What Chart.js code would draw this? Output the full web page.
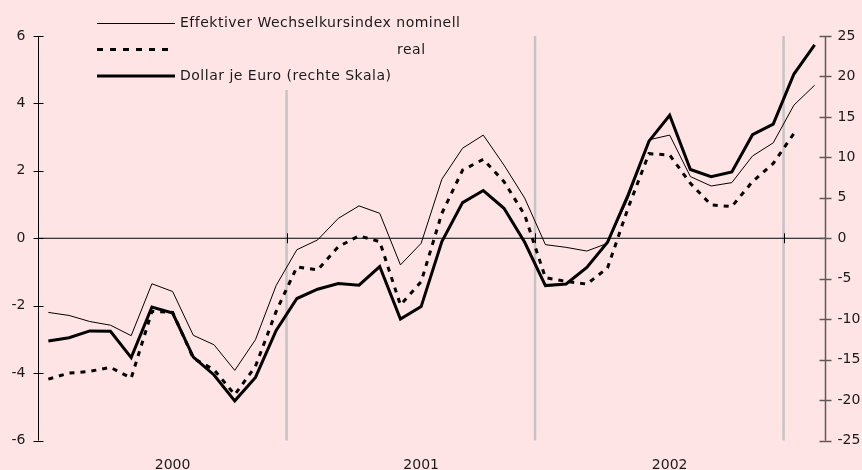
<!DOCTYPE html>
<html lang="de">
  <head>
    <meta charset="UTF-8" />
    <script src="https://cdn.jsdelivr.net/npm/chart.js@4.4.0/dist/chart.umd.min.js"></script>
    <title>Wechselkurse</title>
    <style>
      body {
        margin: 0;
        padding: 0;
        background: #ffe4e6;
      }
    </style>
  </head>
  <body>
    <canvas id="chart" width="862" height="470"></canvas>
    <script>
      // Monate Jan 2000 .. Feb 2003
      const months = [
        '2000-01','2000-02','2000-03','2000-04','2000-05','2000-06','2000-07','2000-08','2000-09','2000-10','2000-11','2000-12',
        '2001-01','2001-02','2001-03','2001-04','2001-05','2001-06','2001-07','2001-08','2001-09','2001-10','2001-11','2001-12',
        '2002-01','2002-02','2002-03','2002-04','2002-05','2002-06','2002-07','2002-08','2002-09','2002-10','2002-11','2002-12',
        '2003-01','2003-02'
      ]
      const nominal = [
        -2.20, -2.29, -2.47, -2.58, -2.89, -1.35, -1.58, -2.88, -3.16, -3.92, -3.01, -1.40,
        -0.34, -0.05, 0.59, 0.96, 0.74, -0.79, -0.15, 1.75, 2.67, 3.06, 2.17, 1.19,
        -0.19, -0.27, -0.38, -0.15, 1.20, 2.92, 3.06, 1.83, 1.55, 1.65, 2.44, 2.83,
        3.95, 4.54
      ]
      const real = [
        -4.18, -4.00, -3.95, -3.83, -4.15, -2.17, -2.20, -3.56, -3.90, -4.64, -3.80, -2.17,
        -0.85, -0.94, -0.25, 0.07, -0.10, -1.98, -1.29, 0.74, 2.02, 2.34, 1.68, 0.69,
        -1.17, -1.28, -1.36, -0.88, 0.91, 2.51, 2.47, 1.63, 0.99, 0.94, 1.68, 2.22,
        3.11, null
      ]
      const dollar = [
        -12.7, -12.3, -11.45, -11.5, -14.75, -8.5, -9.25, -14.7, -16.9, -20.1, -17.2, -11.4,
        -7.45, -6.3, -5.6, -5.8, -3.5, -10.0, -8.45, -0.4, 4.4, 5.9, 3.7, -0.5,
        -5.85, -5.65, -3.6, -0.5, 5.4, 12.0, 15.2, 8.5, 7.6, 8.2, 12.8, 14.1,
        20.3, 23.9
      ]
      const leftTicks = [-6, -4, -2, 0, 2, 4, 6]
      const rightTicks = [-25, -20, -15, -10, -5, 0, 5, 10, 15, 20, 25]
      const yearLabels = ['2000', '2001', '2002']
      const yearLabelAt = ['2000-07', '2001-07', '2002-07']
      const yearBreaks = ['2000-12', '2001-12', '2002-12']
      const legendLabels = [
        'Effektiver Wechselkursindex nominell',
        'real',
        'Dollar je Euro (rechte Skala)',
      ]

      const BG = '#ffe4e6'
      const FONT = '14px "DejaVu Sans"'

      const decor = {
        id: 'decor',
        beforeDatasetsDraw(chart) {
          const { ctx, chartArea: a, scales } = chart
          const x = scales.x
          const half = (x.getPixelForValue(1) - x.getPixelForValue(0)) / 2
          ctx.save()
          // grey year separators
          ctx.strokeStyle = '#c4c4c4'
          ctx.lineWidth = 2.5
          yearBreaks.forEach((m) => {
            const px = x.getPixelForValue(months.indexOf(m)) + half
            ctx.beginPath()
            ctx.moveTo(px, a.top)
            ctx.lineTo(px, a.bottom)
            ctx.stroke()
          })
          // legend area covers the separator
          ctx.fillStyle = BG
          ctx.fillRect(95, 0, 370, 90)
          // zero line with year ticks
          const y0 = scales.y.getPixelForValue(0)
          ctx.strokeStyle = '#000'
          ctx.lineWidth = 1
          ctx.beginPath()
          ctx.moveTo(a.left, y0)
          ctx.lineTo(a.right, y0)
          yearBreaks.forEach((m) => {
            const px = Math.round(x.getPixelForValue(months.indexOf(m)) + half) + 0.5
            ctx.moveTo(px, y0 - 5)
            ctx.lineTo(px, y0 + 5)
          })
          ctx.stroke()
          ctx.restore()
        },
        afterDraw(chart) {
          const { ctx, chartArea: a, scales } = chart
          ctx.save()
          ctx.font = FONT
          ctx.fillStyle = '#1a1a1a'
          // left axis
          const lx = Math.round(a.left) + 0.5
          ctx.strokeStyle = '#000'
          ctx.lineWidth = 1
          ctx.beginPath()
          ctx.moveTo(lx, a.top)
          ctx.lineTo(lx, a.bottom)
          leftTicks.forEach((t) => {
            const py = Math.round(scales.y.getPixelForValue(t)) + 0.5
            ctx.moveTo(lx - 5, py)
            ctx.lineTo(lx + 5, py)
          })
          ctx.stroke()
          ctx.textAlign = 'right'
          ctx.textBaseline = 'middle'
          leftTicks.forEach((t) => {
            ctx.fillText(String(t), lx - 13, scales.y.getPixelForValue(t))
          })
          // right axis
          const rx = Math.round(a.right) + 0.5
          ctx.strokeStyle = '#605858'
          ctx.lineWidth = 1.5
          ctx.beginPath()
          ctx.moveTo(rx, a.top)
          ctx.lineTo(rx, a.bottom)
          rightTicks.forEach((t) => {
            const py = Math.round(scales.y1.getPixelForValue(t)) + 0.5
            ctx.moveTo(rx - 6, py)
            ctx.lineTo(rx + 6, py)
          })
          ctx.stroke()
          ctx.textAlign = 'left'
          rightTicks.forEach((t) => {
            ctx.fillText(String(t), rx + 12, scales.y1.getPixelForValue(t))
          })
          // year labels
          ctx.textAlign = 'center'
          ctx.textBaseline = 'top'
          yearLabels.forEach((lbl, i) => {
            const px = scales.x.getPixelForValue(months.indexOf(yearLabelAt[i]))
            ctx.fillText(lbl, px, a.bottom + 18)
          })
          // legend
          ctx.strokeStyle = '#000'
          ctx.textBaseline = 'middle'
          ctx.textAlign = 'left'
          ctx.letterSpacing = '0.5px'
          ctx.lineWidth = 1
          ctx.beginPath()
          ctx.moveTo(97, 23.5)
          ctx.lineTo(175, 23.5)
          ctx.stroke()
          ctx.fillText(legendLabels[0], 180, 23)
          ctx.lineWidth = 3
          ctx.setLineDash([6, 7])
          ctx.beginPath()
          ctx.moveTo(97, 49.5)
          ctx.lineTo(175, 49.5)
          ctx.stroke()
          ctx.setLineDash([])
          ctx.fillText(legendLabels[1], 397, 50)
          ctx.lineWidth = 3
          ctx.beginPath()
          ctx.moveTo(97, 76)
          ctx.lineTo(175, 76)
          ctx.stroke()
          ctx.fillText(legendLabels[2], 180, 76)
          ctx.restore()
        },
      }

      new Chart(document.getElementById('chart'), {
        type: 'line',
        data: {
          labels: months,
          datasets: [
            {
              label: legendLabels[0],
              data: nominal,
              borderColor: '#000',
              borderWidth: 1,
              yAxisID: 'y',
            },
            {
              label: legendLabels[1],
              data: real,
              borderColor: '#000',
              borderWidth: 3,
              borderDash: [5, 6],
              yAxisID: 'y',
            },
            {
              label: legendLabels[2],
              data: dollar,
              borderColor: '#000',
              borderWidth: 3,
              yAxisID: 'y1',
            },
          ],
        },
        options: {
          responsive: false,
          animation: false,
          events: [],
          layout: {
            padding: { left: 38, right: 37, top: 36, bottom: 29.5 },
          },
          elements: {
            point: { radius: 0 },
            line: { tension: 0, borderJoinStyle: 'miter', fill: false },
          },
          plugins: {
            legend: { display: false },
            tooltip: { enabled: false },
          },
          scales: {
            x: { type: 'category', offset: true, display: false },
            y: { min: -6, max: 6, display: false },
            y1: { min: -25, max: 25, display: false },
          },
        },
        plugins: [decor],
      })
    </script>
  </body>
</html>
